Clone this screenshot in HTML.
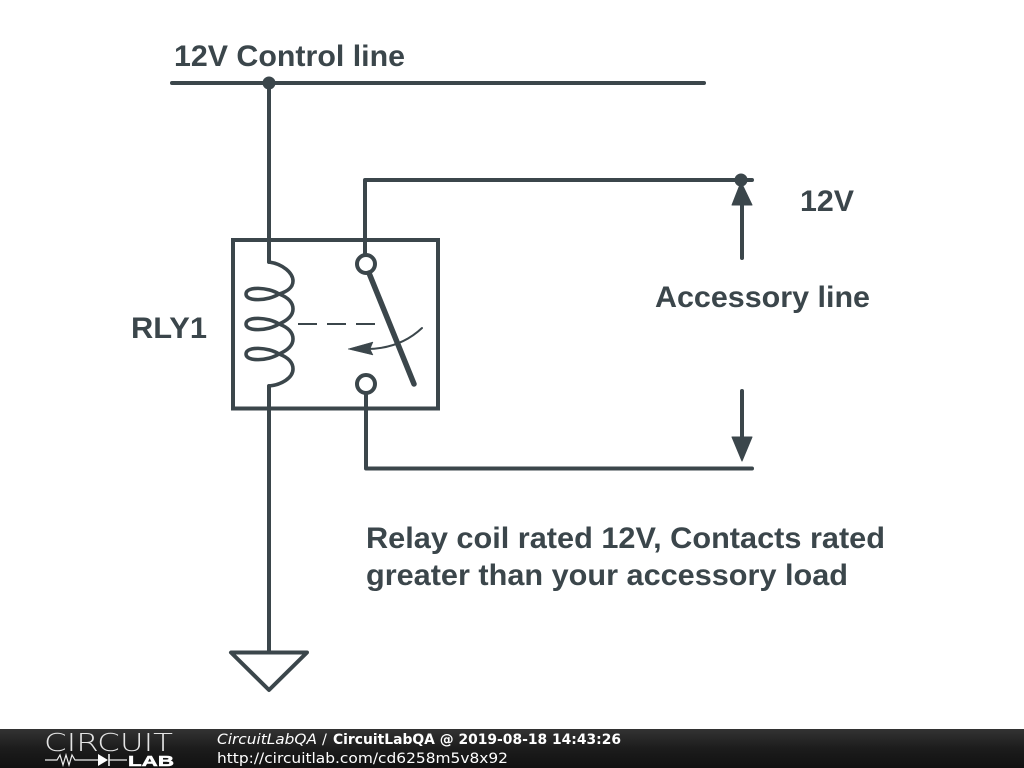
<!DOCTYPE html>
<html><head><meta charset="utf-8"><style>
html,body{margin:0;padding:0;background:#fff}
svg{display:block}
</style></head><body>
<svg width="1024" height="768" viewBox="0 0 1024 768" xmlns="http://www.w3.org/2000/svg">
<defs><linearGradient id="g" x1="0" y1="0" x2="0" y2="1"><stop offset="0" stop-color="#333"/><stop offset="0.5" stop-color="#1c1c1c"/><stop offset="1" stop-color="#111"/></linearGradient></defs>
<rect width="1024" height="768" fill="#fff"/>
<g fill="none" stroke="#3b464b" stroke-width="4" stroke-linecap="round" stroke-linejoin="round">
<path d="M172 83H704"/>
<path d="M269 83V262"/>
<path d="M269 386V652"/>
<path d="M231 652.500H307L269 690Z"/>
<rect x="233" y="240" width="205" height="168.500" stroke-linejoin="miter"/>
<path d="M365 254V180H752"/>
<path d="M366 395V468.500H752"/>
<path d="M742 200V258"/>
<path d="M742 391V440"/>
<circle cx="366" cy="264" r="9"/>
<circle cx="366" cy="384" r="9"/>
<path d="M269 262C283 264 293 273 293 281C293 288 286 292 279 294C268 287 246 286 246 294C246 302 268 301 279 294C287 297 293 302 293 309C293 316 286 321 279 324C268 317 246 316 246 324C246 332 268 331 279 324C287 327 293 332 293 339C293 346 286 351 279 354C268 347 246 346 246 354C246 362 268 361 279 354C287 357 293 362 293 369C293 378 281 385 269 386" stroke-width="3.600"/>
<path d="M369 273L414 384" stroke-width="5.500"/>
<path d="M298 324H376" stroke-width="2" stroke-dasharray="19 10" stroke-linecap="butt"/>
<path d="M422 328C405 344 385 349 366 349" stroke-width="2"/>
</g>
<g fill="#3b464b">
<circle cx="269" cy="83" r="6.500"/>
<circle cx="741" cy="180" r="6.500"/>
<path d="M741 182L752 205H732Z" stroke="#3b464b" stroke-width="1" stroke-linejoin="round"/>
<path d="M732 437H752L742 461Z" stroke="#3b464b" stroke-width="1" stroke-linejoin="round"/>
<path d="M348 349L373 342L370 349L373 355Z" stroke="#3b464b" stroke-width="0.500"/>
</g>
<g font-family="'Liberation Sans',Arial,sans-serif" font-weight="700" font-size="29.500" fill="#3b464b">
<text x="174" y="66" textLength="231" lengthAdjust="spacingAndGlyphs">12V Control line</text>
<text x="800" y="211" textLength="54" lengthAdjust="spacingAndGlyphs">12V</text>
<text x="655" y="307" textLength="215" lengthAdjust="spacingAndGlyphs">Accessory line</text>
<text x="131" y="338" textLength="76" lengthAdjust="spacingAndGlyphs">RLY1</text>
<text x="366" y="548" textLength="519" lengthAdjust="spacingAndGlyphs">Relay coil rated 12V, Contacts rated</text>
<text x="366" y="585" textLength="482" lengthAdjust="spacingAndGlyphs">greater than your accessory load</text>
</g>
<rect x="0" y="729" width="1024" height="39" fill="url(#g)"/>
<g font-family="'DejaVu Sans',sans-serif" font-size="14.500" fill="#fff">
<text x="217" y="744" font-style="italic" textLength="100" lengthAdjust="spacingAndGlyphs">CircuitLabQA</text>
<text x="322" y="744">/</text>
<text x="333" y="744" font-weight="700" textLength="288" lengthAdjust="spacingAndGlyphs">CircuitLabQA @ 2019-08-18 14:43:26</text>
<text x="217" y="763" textLength="291" lengthAdjust="spacingAndGlyphs">http://circuitlab.com/cd6258m5v8x92</text>
</g>
<text x="44" y="751" font-family="'DejaVu Sans',sans-serif" font-weight="200" font-size="25" fill="#e4e4e4" textLength="129" lengthAdjust="spacingAndGlyphs">CIRCUIT</text>
<path d="M45 760H57L60 755L63 765L66 755L69 765L72 755L75 760H98" fill="none" stroke="#eee" stroke-width="1.200"/>
<path d="M98 754L108 760L98 766Z" fill="#fff"/>
<path d="M109 754V766" stroke="#fff" stroke-width="1.500"/>
<path d="M109 760H127" stroke="#eee" stroke-width="1.200"/>
<text x="128" y="766" font-family="'Liberation Sans',sans-serif" font-weight="700" font-size="15" fill="#fff" stroke="#fff" stroke-width="0.500" textLength="46" lengthAdjust="spacingAndGlyphs">LAB</text>
</svg>
</body></html>
